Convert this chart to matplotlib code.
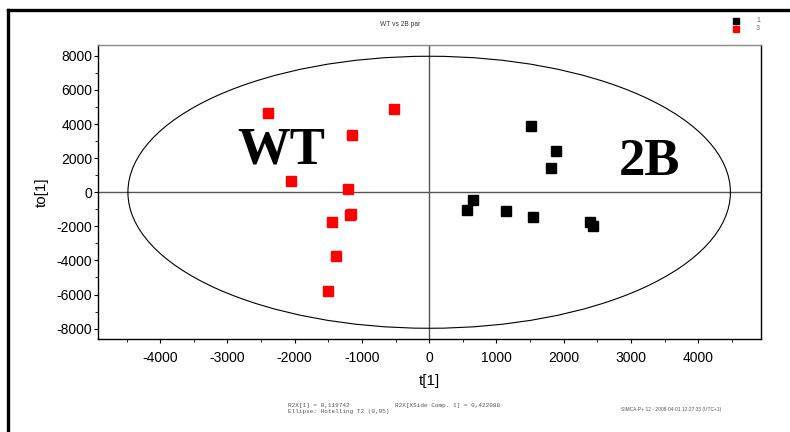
import matplotlib
matplotlib.use("Agg")
import matplotlib.pyplot as plt
from matplotlib.patches import Ellipse
from matplotlib.lines import Line2D
from matplotlib.ticker import MultipleLocator

# OPLS-DA scores: predictive t[1] vs orthogonal to[1]
wt_t = [-2394, -525, -1145, -2052, -1204, -1164, -1179, -1442, -1383, -1502]
wt_to = [4675, 4909, 3384, 645, 217, -1249, -1349, -1718, -3713, -5765]
b2_t = [1517, 1888, 1814, 654, 565, 1145, 1546, 2394, 2439]
b2_to = [3871, 2446, 1449, -469, -1015, -1073, -1425, -1718, -1994]

class_labels = ["1", "3"]
class_colors = ["#000000", "#ff0000"]
group_names = ["WT", "2B"]

x_ticks = [-4000, -3000, -2000, -1000, 0, 1000, 2000, 3000, 4000]
y_ticks = [-8000, -6000, -4000, -2000, 0, 2000, 4000, 6000, 8000]

# Hotelling T2 (0.95) ellipse semi-axes
ell_a, ell_b = 4480, 7980

fig = plt.figure(figsize=(7.9, 4.32), dpi=100)
ax = fig.add_axes([98 / 790, 1 - 339 / 432, (761 - 98) / 790, (339 - 45) / 432])

ax.set_xlim(-4925, 4935)
ax.set_ylim(-8610, 8640)

ax.add_patch(Ellipse((0, 0), 2 * ell_a, 2 * ell_b, fill=False,
                     edgecolor="black", lw=0.8, zorder=2))
ax.axhline(0, color="#555555", lw=1.0, zorder=1)
ax.axvline(0, color="#555555", lw=1.0, zorder=1)

ms = 7.8
ax.plot(b2_t, b2_to, ls="none", marker="s", ms=ms, color=class_colors[0],
        mec=class_colors[0], zorder=3)
ax.plot(wt_t, wt_to, ls="none", marker="s", ms=ms, color=class_colors[1],
        mec=class_colors[1], zorder=3)

ax.text(-2205, 2450, group_names[0], fontsize=38, fontweight="bold",
        family="Liberation Serif", ha="center", va="center", zorder=4)
ax.text(3270, 1800, group_names[1], fontsize=38, fontweight="bold",
        family="Liberation Serif", ha="center", va="center", zorder=4)

ax.set_xticks(x_ticks)
ax.set_yticks(y_ticks)
ax.xaxis.set_minor_locator(MultipleLocator(500))
ax.yaxis.set_minor_locator(MultipleLocator(1000))
ax.tick_params(which="major", direction="out", length=3, width=0.8,
               labelsize=10, pad=6)
ax.tick_params(which="minor", direction="out", length=2, width=0.6)
ax.tick_params(axis="y", pad=1)
ax.set_xticklabels([str(v) for v in x_ticks])
ax.set_yticklabels([str(v) for v in y_ticks])
for lab in ax.get_xticklabels() + ax.get_yticklabels():
    lab.set_family("Liberation Sans")

ax.set_xlabel("t[1]", fontsize=11, family="Liberation Sans", labelpad=6)
ax.set_ylabel("to[1]", fontsize=11, family="Liberation Sans", labelpad=6)

for s in ["left", "bottom", "right"]:
    ax.spines[s].set_color("black")
    ax.spines[s].set_linewidth(1.0)
ax.spines["top"].set_color("#888888")
ax.spines["top"].set_linewidth(1.0)

# page frame
fig.add_artist(Line2D([8 / 790, 1.0], [1 - 10 / 432] * 2, color="black",
                      lw=2.4, transform=fig.transFigure))
fig.add_artist(Line2D([8 / 790] * 2, [0, 1 - 10 / 432], color="black",
                      lw=2.4, transform=fig.transFigure))

fig.text(400 / 790, 1 - 24 / 432, "WT vs 2B par", fontsize=4.8,
         family="Liberation Sans", ha="center", va="center", color="#333333")

# class legend
for i, (lab, col) in enumerate(zip(class_labels, class_colors)):
    yy = 1 - (21 + 8 * i) / 432
    fig.add_artist(Line2D([736 / 790], [yy], marker="s", ms=4.3, color=col,
                          ls="none", transform=fig.transFigure))
    fig.text(758 / 790, yy, lab, fontsize=5, family="Liberation Sans",
             ha="center", va="center", color="#666666")

mono = dict(fontsize=4.3, family="Liberation Mono", color="#555555",
            ha="left", va="center")
fig.text(288 / 790, 1 - 405 / 432, "R2X[1] = 0,119742", **mono)
fig.text(395 / 790, 1 - 405 / 432, "R2X[XSide Comp. 1] = 0,422088", **mono)
fig.text(288 / 790, 1 - 412 / 432, "Ellipse: Hotelling T2 (0,95)", **mono)
fig.text(621 / 790, 1 - 409 / 432,
         "SIMCA-P+ 12 - 2008-04-01 12:27:33 (UTC+1)", fontsize=3.5,
         family="Liberation Sans", color="#555555", ha="left", va="center")

fig.savefig("out.png", dpi=100)
